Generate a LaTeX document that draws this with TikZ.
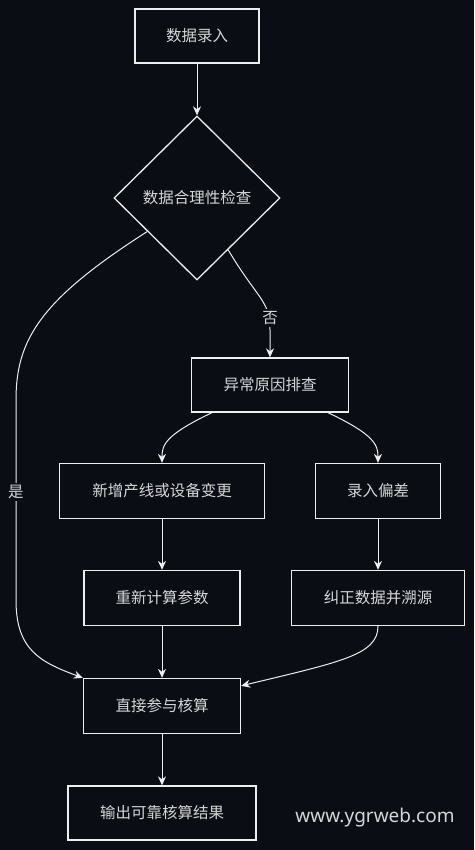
\documentclass[tikz,border=0pt]{standalone}
\usepackage{fontspec}
\setmainfont{Noto Sans CJK SC}
\newfontfamily\wmfont{Noto Sans}
\usetikzlibrary{shapes.geometric,arrows.meta}
\definecolor{bg}{RGB}{11,13,20}
\definecolor{txt}{RGB}{214,214,214}
\definecolor{ln}{RGB}{238,238,238}
\tikzset{
  box/.style={draw=ln, line width=1.3pt, fill=bg, rectangle, inner sep=0pt, text=txt, font=\fontsize{15.5}{18}\selectfont},
  dia/.style={draw=ln, line width=1.3pt, fill=bg, diamond, aspect=1, inner sep=0pt, text=txt, font=\fontsize{15.5}{18}\selectfont, minimum width=166pt, minimum height=164pt},
  edge/.style={draw=ln, line width=1pt, -{Stealth[length=9pt,width=8pt]}},
  lbl/.style={fill=bg, text=txt, inner sep=2pt, font=\fontsize{15.5}{18}\selectfont}
}
\begin{document}
\begin{tikzpicture}[x=1pt,y=-1pt]
\fill[bg] (0,0) rectangle (474,850);
\useasboundingbox (0,0) rectangle (474,850);
\node[box, minimum width=124pt, minimum height=54pt] (lr) at (197,36) {数据录入};
\node[dia] (chk) at (197,198) {数据合理性检查};
\node[box, minimum width=157pt, minimum height=54pt] (yc) at (270,385) {异常原因排查};
\node[box, minimum width=205pt, minimum height=55pt] (xz) at (162,491) {新增产线或设备变更};
\node[box, minimum width=125pt, minimum height=55pt] (pc) at (378,491) {录入偏差};
\node[box, minimum width=156pt, minimum height=55pt] (cs) at (162,598) {重新计算参数};
\node[box, minimum width=173pt, minimum height=55pt] (jz) at (378,598) {纠正数据并溯源};
\node[box, minimum width=157pt, minimum height=55pt] (zj) at (162,706) {直接参与核算};
\node[box, minimum width=188pt, minimum height=54pt] (sc) at (162,813) {输出可靠核算结果};
\node[text=txt, font=\wmfont\fontsize{19}{22}\selectfont] (wm) at (375,818) {www.ygrweb.com};

\draw[edge] (lr) -- (chk);
\draw[edge] (chk.-59) .. controls (258,300) and (270,300) .. (270,330) -- (yc.north);
\node[lbl] (no) at (270,318) {否};
\draw[edge] (chk.214) .. controls (40,300) and (16,340) .. (16,400) -- (16,600) .. controls (16,650) and (40,662) .. (zj.north west);
\node[lbl] (yes) at (16,492) {是};
\draw[edge] ([xshift=-58pt]yc.south) .. controls (165,435) and (162,445) .. (xz.north);
\draw[edge] ([xshift=58pt]yc.south) .. controls (375,435) and (378,445) .. (pc.north);
\draw[edge] (xz) -- (cs);
\draw[edge] (pc) -- (jz);
\draw[edge] (cs) -- (zj);
\draw[edge] (jz.south) .. controls (378,655) and (340,662) .. ([yshift=-8pt]zj.north east);
\draw[edge] (zj) -- (sc);
\end{tikzpicture}
\end{document}
